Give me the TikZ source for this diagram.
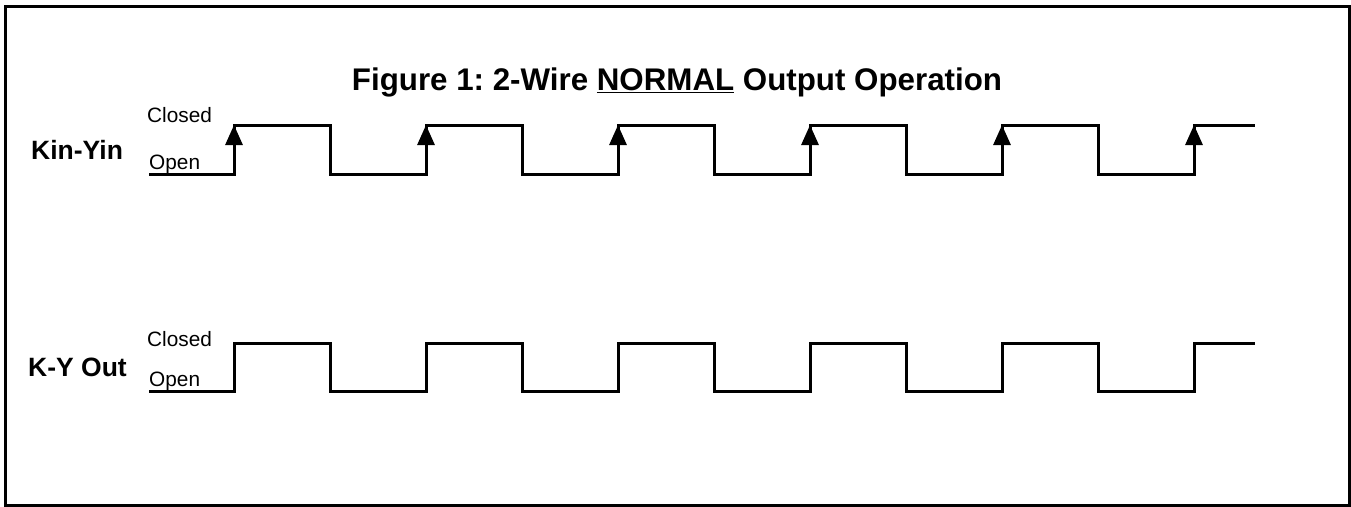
\documentclass[tikz,border=0pt]{standalone}
\usepackage{fontspec}
\setmainfont{Liberation Sans}
\usetikzlibrary{arrows.meta}
\frenchspacing
\begin{document}
\begin{tikzpicture}[x=1pt,y=-1pt,>={Triangle[length=20pt,width=17pt]},
  wave/.style={line width=3pt,line join=miter},
  lbl/.style={font=\fontsize{20.8}{24}\selectfont,anchor=base west,inner sep=0pt},
  sig/.style={font=\fontsize{26.5}{30}\selectfont\bfseries,anchor=base west,inner sep=0pt}]
\useasboundingbox (0,0) rectangle (1351,506);
\draw[line width=3pt](5,6) rectangle (1349,505);
\node[font=\fontsize{31.3}{36}\selectfont\bfseries,anchor=base,inner sep=0pt] (title) at (677,90) {Figure 1: 2-Wire \underline{NORMAL} Output Operation};
% Kin-Yin
\node[sig] (kin) at (31,159) {Kin-Yin};
\node[lbl] (kinc) at (147,122) {Closed};
\node[lbl] (kino) at (149,169) {Open};
\draw[wave](149,174)
  \foreach \t in {0,192,...,768}{ -- (234+\t,174) -- (234+\t,125) -- (330+\t,125) -- (330+\t,174)}
  -- (1194,174) -- (1194,125) -- (1255,125);
\foreach \t in {0,192,...,960}
  \draw[wave,->](234+\t,165)--(234+\t,125);
% K-Y Out
\node[sig] (kyout) at (28,376) {K-Y Out};
\node[lbl] (kyc) at (147,346) {Closed};
\node[lbl] (kyo) at (149,386) {Open};
\draw[wave](149,391)
  \foreach \t in {0,192,...,768}{ -- (234+\t,391) -- (234+\t,343) -- (330+\t,343) -- (330+\t,391)}
  -- (1194,391) -- (1194,343) -- (1255,343);
\end{tikzpicture}
\end{document}
